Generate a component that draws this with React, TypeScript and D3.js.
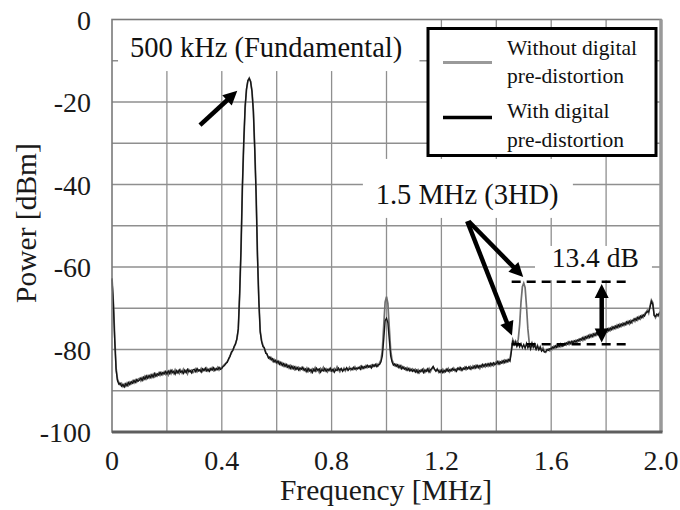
import React, { useEffect, useRef } from "react";
import * as d3 from "d3";

// spectrum analyzer bins, 0.005 MHz apart, 0 .. 2.0 MHz
const FREQ_STEP = 0.005;

// without digital pre-distortion (grey trace), dBm
const withoutDpd = [
  -62.7, -68.5, -77.0, -84.5, -87.2, -88.0, -88.6, -88.2, -89.0, -88.4, -88.9, -88.1, -88.7, -87.9, -88.3, -87.6, -88.1, -87.4, -87.9, -87.2,
  -87.0, -87.6, -86.8, -87.3, -86.5, -87.1, -86.4, -86.9, -86.2, -86.8, -86.0, -86.6, -85.9, -86.4, -85.7, -86.3, -85.6, -86.1, -85.4, -86.0,
  -85.5, -86.2, -85.3, -85.9, -85.1, -85.8, -84.9, -85.6, -85.2, -85.8, -85.0, -85.7, -84.8, -85.5, -85.1, -85.9, -84.9, -85.4, -85.0, -85.6,
  -85.3, -84.7, -85.4, -84.9, -85.2, -84.6, -85.3, -84.8, -85.1, -84.5, -85.2, -84.7, -85.0, -84.4, -85.1, -84.6, -84.9, -84.3, -85.0, -84.5,
  -84.3, -84.0, -83.6, -83.4, -82.9, -82.4, -81.5, -80.9, -80.1, -79.5, -78.5, -77.6, -75.2, -67.0, -56.0, -41.0, -30.0, -21.5, -17.0, -14.9,
  -14.2, -15.0, -17.3, -22.0, -31.0, -42.0, -57.0, -68.0, -75.5, -77.8, -79.0, -79.8, -80.6, -81.3, -81.9, -82.3, -82.0, -82.8, -82.4, -83.1,
  -82.7, -83.4, -83.0, -83.7, -83.3, -84.0, -83.5, -84.2, -83.8, -84.5, -83.9, -84.6, -84.1, -84.8, -84.2, -84.7, -84.3, -85.0, -84.4, -84.9,
  -84.6, -85.2, -84.5, -85.3, -84.8, -85.5, -84.7, -85.1, -84.4, -85.2, -84.9, -85.6, -84.6, -85.0, -84.3, -85.1, -84.7, -85.4, -84.8, -85.2,
  -84.9, -85.3, -84.6, -85.0, -84.2, -84.9, -85.4, -84.7, -85.1, -84.5, -85.2, -84.6, -84.9, -84.3, -85.0, -84.5, -84.8, -84.2, -84.9, -84.4,
  -84.6, -84.1, -84.7, -84.2, -84.5, -83.9, -84.4, -84.0, -84.3, -83.8, -84.2, -83.7, -84.0, -83.5, -83.9, -83.2, -82.5, -80.0, -74.0, -68.5,
  -67.2, -68.8, -74.5, -80.0, -82.5, -83.3, -83.9, -83.6, -84.2, -83.8, -84.5, -84.0, -84.6, -84.3, -84.9, -84.4, -85.0, -84.6, -85.1, -84.7,
  -85.2, -84.8, -85.4, -84.9, -85.6, -85.0, -85.3, -84.7, -85.5, -84.9, -85.2, -84.6, -85.4, -84.7, -84.3, -84.8, -85.1, -84.7, -85.5, -85.0,
  -85.3, -84.8, -85.5, -84.9, -85.2, -84.6, -85.4, -84.8, -85.1, -84.5, -85.2, -84.7, -84.9, -84.4, -85.0, -84.6, -84.8, -84.3, -84.9, -84.5,
  -84.6, -84.1, -84.7, -84.0, -84.5, -83.9, -84.4, -84.0, -84.6, -83.8, -84.3, -83.7, -84.2, -83.6, -84.1, -83.5, -84.0, -83.4, -83.9, -83.3,
  -83.0, -83.5, -82.9, -83.4, -82.8, -83.3, -82.6, -83.1, -82.5, -82.9, -82.3, -80.0, -77.6, -78.4, -77.9, -78.8, -77.5, -74.0, -68.5, -64.8,
  -63.9, -65.0, -69.5, -75.0, -78.3, -79.3, -78.4, -79.5, -78.7, -79.8, -79.0, -79.9, -79.3, -80.2, -79.6, -80.5, -80.7, -80.2, -79.9, -80.3,
  -79.5, -79.9, -79.2, -79.6, -79.0, -79.4, -78.8, -79.3, -78.7, -79.1, -78.5, -78.9, -78.3, -78.8, -78.2, -78.6, -78.0, -78.5, -77.8, -78.3,
  -77.6, -78.0, -77.3, -77.8, -77.0, -77.5, -76.8, -77.2, -76.5, -77.0, -76.3, -76.8, -76.1, -76.5, -75.8, -76.4, -75.6, -76.1, -75.4, -75.9,
  -75.2, -75.7, -74.9, -75.4, -74.6, -75.1, -74.4, -74.9, -74.1, -74.6, -73.9, -74.4, -73.7, -74.2, -73.5, -73.9, -73.2, -73.8, -73.0, -73.5,
  -72.7, -73.2, -72.4, -72.9, -72.1, -72.6, -71.8, -72.2, -71.4, -71.0, -70.5, -71.2, -69.5, -68.0, -68.6, -71.5, -72.3, -71.6, -71.9, -71.2,
  -70.6,
];

// with digital pre-distortion (black trace), dBm
const withDpd = [
  -63.0, -69.0, -78.0, -85.0, -87.6, -88.4, -88.2, -88.9, -88.5, -89.1, -88.3, -88.8, -88.0, -88.5, -87.8, -88.2, -87.5, -88.0, -87.3, -87.7,
  -87.4, -86.9, -87.5, -86.7, -87.2, -86.4, -87.0, -86.3, -86.8, -86.1, -86.7, -85.8, -86.5, -85.9, -86.2, -85.5, -86.1, -85.6, -85.9, -85.3,
  -85.9, -85.2, -85.8, -85.0, -85.6, -85.3, -86.0, -85.1, -85.7, -84.9, -85.5, -85.2, -85.8, -85.0, -85.6, -84.8, -85.4, -85.1, -85.7, -84.9,
  -84.8, -85.4, -84.6, -85.2, -84.9, -85.5, -84.7, -85.1, -84.5, -85.2, -84.8, -85.3, -84.6, -85.0, -84.4, -85.1, -84.6, -84.9, -84.3, -84.8,
  -84.6, -84.1, -83.9, -83.3, -83.1, -82.2, -81.7, -80.6, -80.3, -79.2, -78.7, -77.3, -75.0, -66.5, -55.5, -40.5, -29.5, -21.0, -16.8, -14.8,
  -14.3, -15.1, -17.5, -22.3, -31.5, -42.5, -57.5, -68.5, -75.8, -78.1, -79.3, -79.6, -80.9, -81.1, -82.1, -81.8, -82.5, -82.2, -83.0, -82.6,
  -83.2, -82.8, -83.6, -83.1, -83.9, -83.4, -84.1, -83.6, -84.3, -83.9, -84.6, -84.0, -84.7, -84.2, -84.9, -84.4, -85.0, -84.5, -84.8, -84.3,
  -85.1, -84.7, -85.4, -84.6, -85.2, -84.9, -85.6, -84.8, -85.3, -84.5, -85.0, -84.7, -85.5, -84.9, -85.2, -84.6, -85.3, -84.8, -85.1, -84.5,
  -85.2, -84.8, -85.5, -84.9, -85.1, -84.5, -85.0, -84.6, -85.3, -84.8, -84.9, -84.4, -85.1, -84.7, -84.6, -84.9, -84.3, -84.8, -84.5, -84.7,
  -84.3, -84.8, -84.0, -84.6, -84.1, -84.4, -83.8, -84.3, -83.9, -84.5, -83.7, -84.1, -83.6, -84.2, -83.7, -83.6, -83.0, -81.5, -77.5, -73.0,
  -72.4, -73.5, -77.5, -81.5, -83.0, -83.8, -83.5, -84.1, -83.7, -84.4, -83.9, -84.7, -84.2, -84.8, -84.5, -85.1, -84.6, -85.2, -84.8, -85.3,
  -84.9, -85.5, -85.0, -85.7, -85.1, -85.4, -84.8, -85.6, -85.0, -85.3, -84.7, -85.5, -84.9, -84.6, -84.1, -84.8, -85.3, -84.8, -85.2, -85.6,
  -85.0, -85.6, -85.1, -85.4, -84.7, -85.3, -84.9, -85.2, -84.6, -85.0, -84.8, -85.3, -84.5, -84.9, -84.4, -85.1, -84.5, -84.8, -84.2, -84.7,
  -84.2, -84.8, -84.3, -84.6, -84.0, -84.5, -83.8, -84.4, -83.9, -84.2, -83.6, -84.1, -83.5, -84.0, -83.4, -83.9, -83.3, -83.8, -83.2, -83.7,
  -83.4, -82.9, -83.6, -83.0, -83.3, -82.7, -83.2, -82.6, -83.0, -82.4, -82.8, -80.5, -77.8, -78.9, -78.2, -79.3, -78.5, -79.4, -78.6, -79.6,
  -78.8, -79.7, -78.5, -79.6, -78.9, -79.9, -78.6, -79.4, -79.1, -80.0, -79.2, -80.1, -79.5, -80.4, -80.0, -80.6, -80.5, -80.0, -80.2, -79.8,
  -79.9, -79.4, -79.7, -79.1, -79.5, -78.9, -79.3, -78.6, -79.2, -78.8, -78.9, -78.4, -78.7, -78.1, -78.6, -78.0, -78.4, -77.9, -78.2, -77.7,
  -77.9, -77.4, -77.7, -77.1, -77.6, -76.9, -77.3, -76.6, -77.1, -76.4, -76.9, -76.2, -76.6, -75.9, -76.4, -75.7, -76.2, -75.5, -76.0, -75.3,
  -75.6, -75.0, -75.5, -74.8, -75.2, -74.5, -74.9, -74.3, -74.7, -74.0, -74.5, -73.8, -74.2, -73.6, -74.0, -73.3, -73.7, -73.1, -73.6, -72.9,
  -73.0, -72.5, -72.9, -72.2, -72.6, -71.9, -72.3, -71.6, -71.9, -71.2, -70.8, -70.9, -69.8, -68.3, -69.0, -71.8, -72.0, -71.4, -71.7, -71.0,
  -70.8,
];

const xTicks = [0, 0.4, 0.8, 1.2, 1.6, 2.0];
const xTickLabels = ["0", "0.4", "0.8", "1.2", "1.6", "2.0"];
const yTicks = [0, -20, -40, -60, -80, -100];
const legendLabels = [
  ["Without digital", "pre-distortion"],
  ["With digital", "pre-distortion"],
];

const FONT = "'Liberation Serif', 'Times New Roman', serif";

const App = () => {
  const svgRef = useRef<SVGSVGElement | null>(null);

  useEffect(() => {
    const svg = d3.select(svgRef.current);
    svg.selectAll("*").remove();

    const left = 112,
      top = 19.5,
      right = 661,
      bottom = 432;

    const x = d3.scaleLinear().domain([0, 2]).range([left, right]);
    const y = d3.scaleLinear().domain([-100, 0]).range([bottom, top]);

    svg.append("rect").attr("width", 680).attr("height", 510).attr("fill", "#fff");

    // grid
    const grid = svg.append("g").attr("stroke", "#8f8f8f").attr("stroke-width", 1.3);
    grid
      .selectAll("line.v")
      .data(d3.range(0.2, 2, 0.2))
      .enter()
      .append("line")
      .attr("x1", (d) => x(d))
      .attr("x2", (d) => x(d))
      .attr("y1", top)
      .attr("y2", bottom);
    grid
      .selectAll("line.h")
      .data(d3.range(-90, 0, 10))
      .enter()
      .append("line")
      .attr("x1", left)
      .attr("x2", right)
      .attr("y1", (d) => y(d))
      .attr("y2", (d) => y(d));

    // white backgrounds behind the annotation texts
    const boxes = [
      [0.022, 1.12, 0, -12.5],
      [0.914, 1.679, -33.8, -48.1],
      [1.541, 1.967, -54.9, -63.2],
    ];
    svg
      .selectAll("rect.bg")
      .data(boxes)
      .enter()
      .append("rect")
      .attr("x", (d) => x(d[0]))
      .attr("width", (d) => x(d[1]) - x(d[0]))
      .attr("y", (d) => y(d[2]))
      .attr("height", (d) => y(d[3]) - y(d[2]))
      .attr("fill", "#fff");

    // traces
    const line = d3
      .line<number>()
      .x((d, i) => x(i * FREQ_STEP))
      .y((d) => y(d));
    svg
      .append("path")
      .datum(withoutDpd)
      .attr("d", line)
      .attr("fill", "none")
      .attr("stroke", "#707070")
      .attr("stroke-width", 1.7);
    svg
      .append("path")
      .datum(withDpd)
      .attr("d", line)
      .attr("fill", "none")
      .attr("stroke", "#141414")
      .attr("stroke-width", 1.35);

    // frame
    svg
      .append("rect")
      .attr("x", left)
      .attr("y", top)
      .attr("width", right - left)
      .attr("height", bottom - top)
      .attr("fill", "none")
      .attr("stroke", "#7a7a7a")
      .attr("stroke-width", 1.6);
    svg
      .append("line")
      .attr("x1", right)
      .attr("x2", right)
      .attr("y1", top)
      .attr("y2", bottom)
      .attr("stroke", "#999")
      .attr("stroke-width", 3.5);
    svg
      .append("line")
      .attr("x1", left)
      .attr("x2", right + 1.5)
      .attr("y1", bottom)
      .attr("y2", bottom)
      .attr("stroke", "#5e5e5e")
      .attr("stroke-width", 3);

    // tick labels
    svg
      .selectAll("text.xt")
      .data(xTicks)
      .enter()
      .append("text")
      .attr("x", (d) => x(d))
      .attr("y", bottom + 38)
      .attr("text-anchor", "middle")
      .attr("font-family", FONT)
      .attr("font-size", 28)
      .attr("fill", "#1a1a1a")
      .text((d, i) => xTickLabels[i]);
    svg
      .selectAll("text.yt")
      .data(yTicks)
      .enter()
      .append("text")
      .attr("x", left - 21)
      .attr("y", (d) => y(d) + 10)
      .attr("text-anchor", "end")
      .attr("font-family", FONT)
      .attr("font-size", 28)
      .attr("fill", "#1a1a1a")
      .text((d) => d);

    // axis titles
    svg
      .append("text")
      .attr("x", 386)
      .attr("y", 500)
      .attr("text-anchor", "middle")
      .attr("font-family", FONT)
      .attr("font-size", 29.5)
      .attr("fill", "#1a1a1a")
      .text("Frequency [MHz]");
    svg
      .append("text")
      .attr("transform", "translate(36,223) rotate(-90)")
      .attr("text-anchor", "middle")
      .attr("font-family", FONT)
      .attr("font-size", 29.5)
      .attr("fill", "#1a1a1a")
      .text("Power [dBm]");

    // annotations
    const note = (f: number, db: number, s: string, size: number) =>
      svg
        .append("text")
        .attr("x", x(f))
        .attr("y", y(db))
        .attr("font-family", FONT)
        .attr("font-size", size)
        .attr("fill", "#111")
        .text(s);
    note(0.0656, -9.1, "500 kHz (Fundamental)", 28.5);
    note(0.9607, -44.7, "1.5 MHz (3HD)", 28.5);
    note(1.602, -60.0, "13.4 dB", 27.5);

    const arrowHead = (x1: number, y1: number, x2: number, y2: number, len: number, w: number) => {
      const a = Math.atan2(y2 - y1, x2 - x1);
      const bx = x2 - len * Math.cos(a),
        by = y2 - len * Math.sin(a);
      const nx = -Math.sin(a) * (w / 2),
        ny = Math.cos(a) * (w / 2);
      return `M${x2},${y2}L${bx + nx},${by + ny}L${bx - nx},${by - ny}Z`;
    };
    const arrow = (f1: number, d1: number, f2: number, d2: number, both = false) => {
      const x1 = x(f1),
        y1 = y(d1),
        x2 = x(f2),
        y2 = y(d2);
      const len = 14;
      const a = Math.atan2(y2 - y1, x2 - x1);
      const sx = both ? x1 + (len - 2) * Math.cos(a) : x1;
      const sy = both ? y1 + (len - 2) * Math.sin(a) : y1;
      svg
        .append("line")
        .attr("x1", sx)
        .attr("y1", sy)
        .attr("x2", x2 - (len - 2) * Math.cos(a))
        .attr("y2", y2 - (len - 2) * Math.sin(a))
        .attr("stroke", "#000")
        .attr("stroke-width", 4.5);
      svg.append("path").attr("d", arrowHead(x1, y1, x2, y2, len, 14)).attr("fill", "#000");
      if (both) svg.append("path").attr("d", arrowHead(x2, y2, x1, y1, len, 14)).attr("fill", "#000");
    };
    arrow(0.3206, -25.6, 0.4565, -17.3);
    arrow(1.299, -48.9, 1.498, -62.4);
    arrow(1.294, -48.9, 1.457, -76.6);
    arrow(1.784, -64.1, 1.784, -78.3, true);

    // dashed level markers
    [-63.6, -78.7].forEach((db) =>
      svg
        .append("line")
        .attr("x1", x(1.456))
        .attr("x2", x(1.875))
        .attr("y1", y(db))
        .attr("y2", y(db))
        .attr("stroke", "#000")
        .attr("stroke-width", 2.5)
        .attr("stroke-dasharray", "9,6")
    );

    // legend
    const lg = svg.append("g");
    lg.append("rect")
      .attr("x", 428)
      .attr("y", 28.5)
      .attr("width", 228)
      .attr("height", 127)
      .attr("fill", "#fff")
      .attr("stroke", "#000")
      .attr("stroke-width", 3);
    const swatch = [
      { color: "#9a9a9a", w: 3, y: 62.5 },
      { color: "#000", w: 3.5, y: 117.5 },
    ];
    swatch.forEach((s, i) => {
      lg.append("line")
        .attr("x1", 443)
        .attr("x2", 492)
        .attr("y1", s.y)
        .attr("y2", s.y)
        .attr("stroke", s.color)
        .attr("stroke-width", s.w);
      legendLabels[i].forEach((t, j) =>
        lg
          .append("text")
          .attr("x", 507)
          .attr("y", [55, 118.3][i] + j * 28.4)
          .attr("font-family", FONT)
          .attr("font-size", 21.5)
          .attr("fill", "#111")
          .text(t)
      );
    });
  }, []);

  return <svg ref={svgRef} width={680} height={510} style={{ position: "absolute", left: 0, top: 0 }}></svg>;
};

export default App;
